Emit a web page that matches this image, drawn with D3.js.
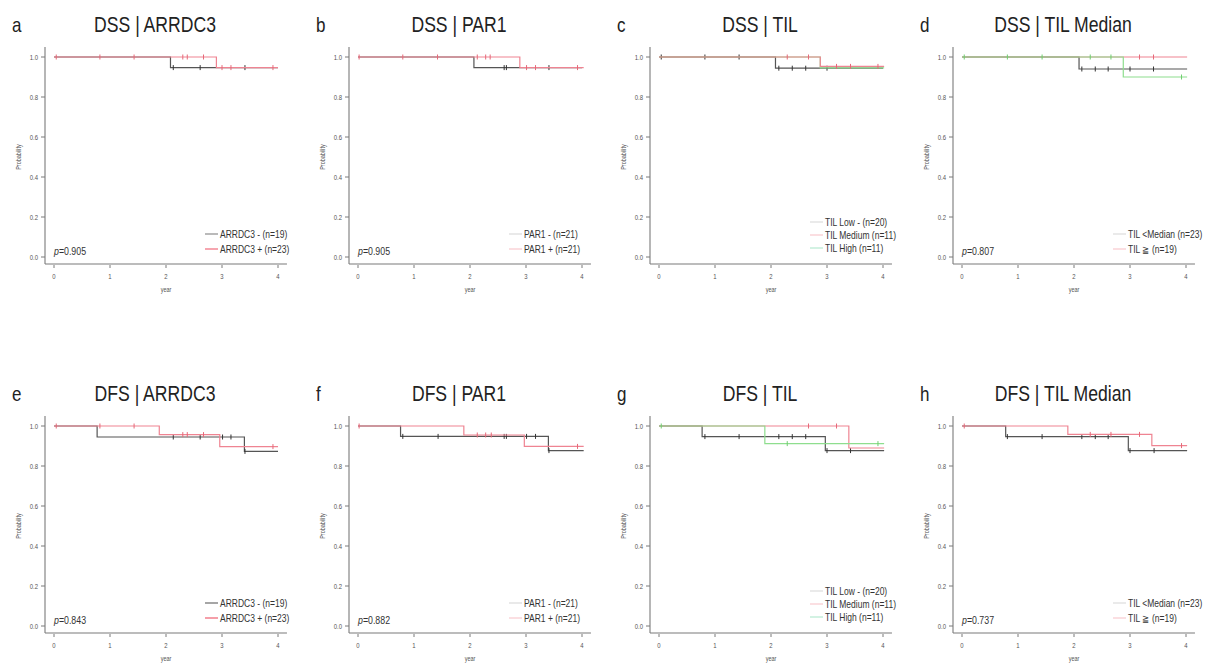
<!DOCTYPE html>
<html>
<head>
<meta charset="utf-8">
<script src="https://cdn.jsdelivr.net/npm/d3@7"></script>
<style>
  body { margin: 0; background: #fff; }
  #container { width: 1213px; height: 666px; }
  text { font-family: "Liberation Sans", Arial, sans-serif; }
</style>
</head>
<body>
<div id="container"></div>
<script>
// ---- data ----
const letters = ["a", "b", "c", "d", "e", "f", "g", "h"];
const titles = ["DSS | ARRDC3", "DSS | PAR1", "DSS | TIL", "DSS | TIL Median",
                "DFS | ARRDC3", "DFS | PAR1", "DFS | TIL", "DFS | TIL Median"];
const pValues = ["0.905", "0.905", null, "0.807", "0.843", "0.882", null, "0.737"];
const legendLabels = [
  ["ARRDC3 - (n=19)", "ARRDC3 + (n=23)"],
  ["PAR1 - (n=21)", "PAR1 + (n=21)"],
  ["TIL Low - (n=20)", "TIL Medium (n=11)", "TIL High (n=11)"],
  ["TIL <Median (n=23)", "TIL \u2267 (n=19)"],
  ["ARRDC3 - (n=19)", "ARRDC3 + (n=23)"],
  ["PAR1 - (n=21)", "PAR1 + (n=21)"],
  ["TIL Low - (n=20)", "TIL Medium (n=11)", "TIL High (n=11)"],
  ["TIL <Median (n=23)", "TIL \u2267 (n=19)"]
];
const xTicks = [0, 1, 2, 3, 4];
const yTicks = [0.0, 0.2, 0.4, 0.6, 0.8, 1.0];

// each series: [colour key, step points [year, survival], censor times]
const dssArrdc3 = [
  ["k", [[0, 1], [2.08, 0.947], [4.0, 0.947]], [2.13, 2.61, 3.41]],
  ["r", [[0, 1], [2.90, 0.947], [4.0, 0.947]], [0.04, 0.82, 1.43, 2.30, 2.38, 2.67, 3.0, 3.16, 3.91]]
];
const dssPar1 = [
  ["k", [[0, 1], [2.07, 0.947], [4.0, 0.947]], [2.61, 2.65, 3.41]],
  ["r", [[0, 1], [2.89, 0.947], [4.03, 0.947]], [0.02, 0.80, 1.42, 2.13, 2.28, 2.36, 3.01, 3.17, 3.92]]
];
const dssTil = [
  ["k", [[0, 1], [2.08, 0.944], [4.0, 0.944]], [0.04, 0.82, 1.43, 2.14, 2.38, 2.62, 3.0]],
  ["g", [[0, 1], [2.88, 0.946], [4.02, 0.946]], []],
  ["r", [[0, 1], [2.88, 0.953], [4.02, 0.953]], [2.29, 2.67, 3.17, 3.42, 3.91]]
];
const dssTilMedian = [
  ["k", [[0, 1], [2.09, 0.94], [4.02, 0.94]], [2.14, 2.38, 2.61, 3.0, 3.42]],
  ["r", [[0, 1], [4.02, 1]], [3.17, 3.42]],
  ["g", [[0, 1], [2.88, 0.90], [4.02, 0.90]], [0.04, 0.81, 1.43, 2.29, 2.66, 3.92]]
];
const dfsArrdc3 = [
  ["k", [[0, 1], [0.77, 0.945], [3.40, 0.873], [4.0, 0.873]], [2.13, 2.61, 3.01, 3.16, 3.41]],
  ["r", [[0, 1], [1.88, 0.957], [2.96, 0.897], [4.0, 0.897]], [0.04, 0.82, 1.43, 2.30, 2.38, 2.67, 3.91]]
];
const dfsPar1 = [
  ["k", [[0, 1], [0.76, 0.948], [3.40, 0.877], [4.03, 0.877]], [0.80, 1.43, 2.61, 2.65, 3.01, 3.17, 3.41]],
  ["r", [[0, 1], [1.89, 0.955], [2.97, 0.898], [4.03, 0.898]], [0.02, 2.13, 2.28, 2.38, 3.92]]
];
const dfsTil = [
  ["k", [[0, 1], [0.77, 0.947], [2.97, 0.877], [4.02, 0.877]], [0.82, 1.43, 2.14, 2.38, 2.62, 3.0, 3.42]],
  ["r", [[0, 1], [3.39, 0.89], [4.02, 0.89]], [2.67, 3.17]],
  ["g", [[0, 1], [1.89, 0.912], [4.02, 0.912]], [0.04, 2.29, 3.91]]
];
const dfsTilMedian = [
  ["k", [[0, 1], [0.78, 0.947], [2.97, 0.877], [4.02, 0.877]], [0.81, 1.43, 2.14, 2.38, 2.61, 3.0, 3.43]],
  ["r", [[0, 1], [1.89, 0.958], [3.39, 0.902], [4.02, 0.902]], [0.04, 2.29, 2.66, 3.17, 3.92]]
];
const panelSeries = [dssArrdc3, dssPar1, dssTil, dssTilMedian, dfsArrdc3, dfsPar1, dfsTil, dfsTilMedian];

// ---- styles ----
const lineColor = { k: "#555555", r: "#ef8492", g: "#8ede8e" };
const tickColor = { k: "#333333", r: "#e66878", g: "#6fcf6f" };
const legendColors = [
  ["#8c8c8c", "#f06c7c"],
  ["#dadada", "#f9c9ce"],
  ["#dcdcdc", "#f9c9ce", "#b6ead0"],
  ["#dcdcdc", "#f9c9ce"],
  ["#6a6a6a", "#ee5f70"],
  ["#dadada", "#f9c9ce"],
  ["#dcdcdc", "#f9c9ce", "#b6ead0"],
  ["#dcdcdc", "#f9c9ce"]
];

const colX0 = [54, 358, 659, 962];
const rowDy = [0, 369];

const svg = d3.create("svg")
    .attr("width", 1213)
    .attr("height", 666)
    .attr("viewBox", "0 0 1213 666")
    .attr("xmlns", "http://www.w3.org/2000/svg");

// text squeezed horizontally, like the narrow font of the original figure
function label(g, x, y, str, size, sx, anchor, fill) {
    return g.append("text")
        .attr("transform", `translate(${x},${y}) scale(${sx},1)`)
        .attr("font-size", size)
        .attr("text-anchor", anchor || "start")
        .attr("fill", fill || "#333")
        .text(str);
}

panelSeries.forEach((series, i) => {
    const x0 = colX0[i % 4];
    const dy = rowDy[Math.floor(i / 4)];
    const x = d3.scaleLinear().domain([0, 4]).range([x0, x0 + 224]);
    const y = d3.scaleLinear().domain([-0.035, 1.05]).range([264 + dy, 47 + dy]);
    const g = svg.append("g");
    const axisX = x0 - 9;
    const baseY = y(-0.035);

    // letter + title
    label(g, x0 - 42, 32 + dy, letters[i], 20, 0.85, "start", "#222");
    label(g, x0 + 101, 32 + dy, titles[i], 22, 0.8, "middle", "#222");

    // axis lines (L shaped)
    g.append("line").attr("x1", axisX).attr("x2", axisX).attr("y1", y(1.05)).attr("y2", baseY)
        .attr("stroke", "#7a7a7a").attr("stroke-width", 1.1);
    g.append("line").attr("x1", axisX).attr("x2", x(4.16)).attr("y1", baseY).attr("y2", baseY)
        .attr("stroke", "#7a7a7a").attr("stroke-width", 1.1);

    // y ticks
    g.selectAll(".yt").data(yTicks).join("line")
        .attr("x1", axisX - 4).attr("x2", axisX)
        .attr("y1", d => y(d)).attr("y2", d => y(d))
        .attr("stroke", "#7a7a7a");
    yTicks.forEach(d => label(g, axisX - 7, y(d) + 2.5, d.toFixed(1), 7, 0.85, "end", "#555"));

    // x ticks
    g.selectAll(".xt").data(xTicks).join("line")
        .attr("x1", d => x(d)).attr("x2", d => x(d))
        .attr("y1", baseY + 1).attr("y2", baseY + 4)
        .attr("stroke", "#7a7a7a");
    xTicks.forEach(d => label(g, x(d), baseY + 15, d, 7, 0.85, "middle", "#555"));

    label(g, x(2), baseY + 28, "year", 6.5, 0.85, "middle", "#555");
    g.append("text")
        .attr("transform", `translate(${x0 - 33},${y(0.5)}) rotate(-90) scale(0.85,1)`)
        .attr("text-anchor", "middle").attr("font-size", 6.5).attr("fill", "#555").text("Probability");

    // survival curves
    const line = d3.line().x(d => x(d[0])).y(d => y(d[1])).curve(d3.curveStepAfter);
    series.forEach(([key, steps, cens]) => {
        g.append("path").datum(steps).attr("d", line)
            .attr("fill", "none").attr("stroke", lineColor[key]).attr("stroke-width", 1.2);
        const survAt = t => {
            let s = steps[0][1];
            steps.forEach(p => { if (p[0] <= t) s = p[1]; });
            return s;
        };
        g.selectAll(null).data(cens).join("line")
            .attr("x1", d => x(d)).attr("x2", d => x(d))
            .attr("y1", d => y(survAt(d)) - 2.5).attr("y2", d => y(survAt(d)) + 2.5)
            .attr("stroke", tickColor[key]).attr("stroke-width", 1);
    });

    // legend
    const labels = legendLabels[i];
    const rowsY = labels.length === 3 ? [222, 235, 248] : [234, 249];
    labels.forEach((lab, j) => {
        const ly = rowsY[j] + dy;
        g.append("line").attr("x1", x0 + 151).attr("x2", x0 + 164).attr("y1", ly).attr("y2", ly)
            .attr("stroke", legendColors[i][j]).attr("stroke-width", 1.2);
        label(g, x0 + 166, ly + 3.5, lab, 10, 0.85, "start", "#333");
    });

    // p value
    if (pValues[i]) {
        const t = label(g, x0, 255 + dy, "", 10, 0.88, "start", "#333");
        t.append("tspan").attr("font-style", "italic").text("p");
        t.append("tspan").text("=" + pValues[i]);
    }
});

document.getElementById("container").append(svg.node());
</script>
</body>
</html>
